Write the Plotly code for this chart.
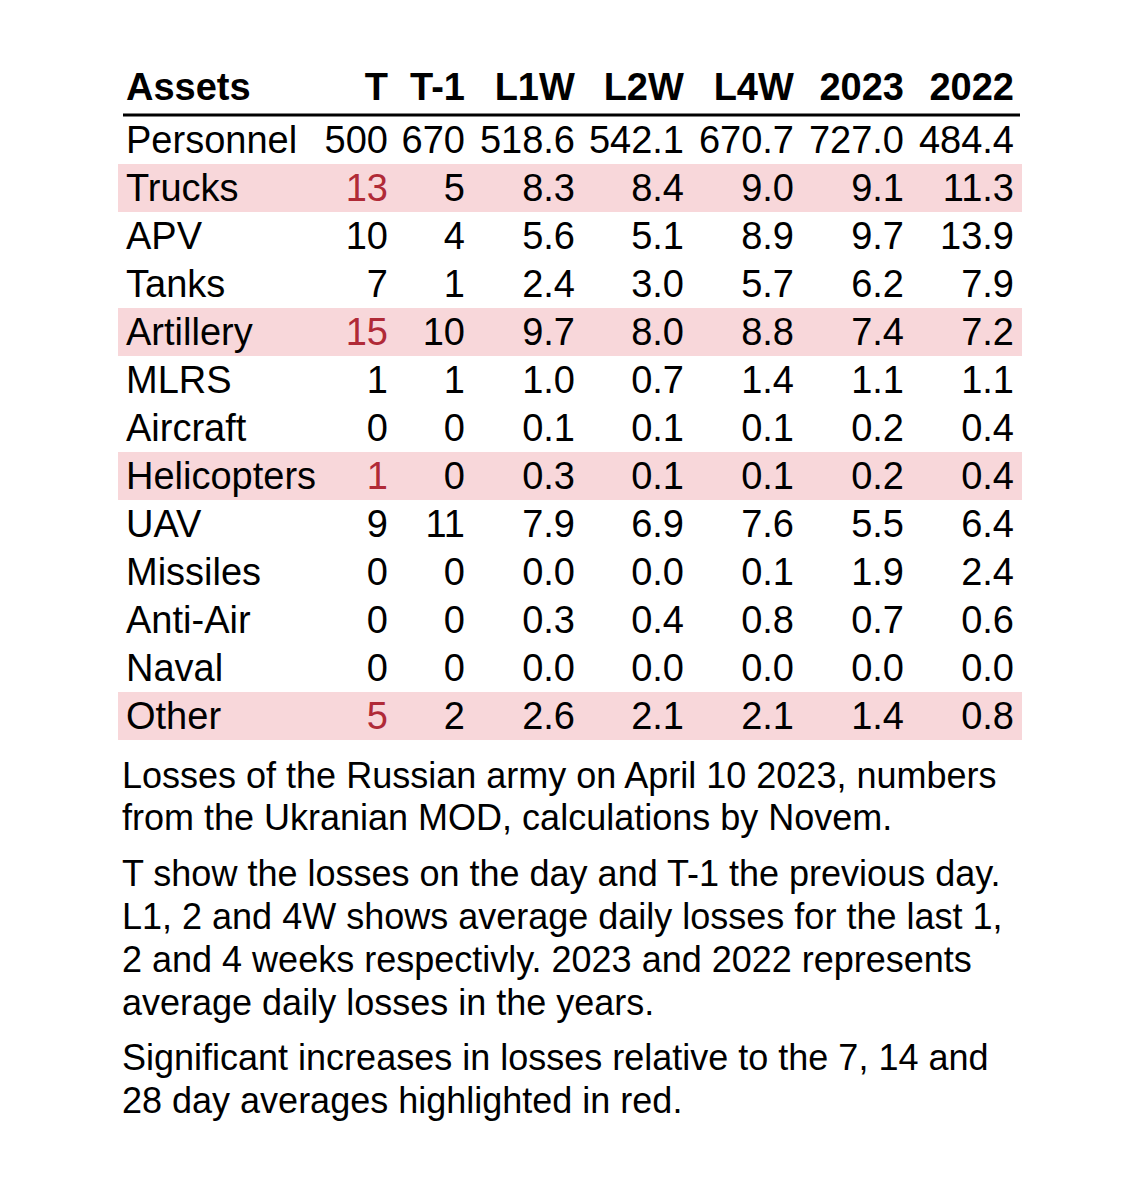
import plotly.graph_objects as go

assets = ["Personnel", "Trucks", "APV", "Tanks", "Artillery", "MLRS", "Aircraft",
          "Helicopters", "UAV", "Missiles", "Anti-Air", "Naval", "Other"]
t_day = [500, 13, 10, 7, 15, 1, 0, 1, 9, 0, 0, 0, 5]
t_prev = [670, 5, 4, 1, 10, 1, 0, 0, 11, 0, 0, 0, 2]
l1w = [518.6, 8.3, 5.6, 2.4, 9.7, 1.0, 0.1, 0.3, 7.9, 0.0, 0.3, 0.0, 2.6]
l2w = [542.1, 8.4, 5.1, 3.0, 8.0, 0.7, 0.1, 0.1, 6.9, 0.0, 0.4, 0.0, 2.1]
l4w = [670.7, 9.0, 8.9, 5.7, 8.8, 1.4, 0.1, 0.1, 7.6, 0.1, 0.8, 0.0, 2.1]
y2023 = [727.0, 9.1, 9.7, 6.2, 7.4, 1.1, 0.2, 0.2, 5.5, 1.9, 0.7, 0.0, 1.4]
y2022 = [484.4, 11.3, 13.9, 7.9, 7.2, 1.1, 0.4, 0.4, 6.4, 2.4, 0.6, 0.0, 0.8]
highlighted = ["Trucks", "Artillery", "Helicopters", "Other"]

headers = ["Assets", "T", "T-1", "L1W", "L2W", "L4W", "2023", "2022"]

notes = [
    ["Losses of the Russian army on April 10 2023, numbers",
     "from the Ukranian MOD, calculations by Novem."],
    ["T show the losses on the day and T-1 the previous day.",
     "L1, 2 and 4W shows average daily losses for the last 1,",
     "2 and 4 weeks respectivly. 2023 and 2022 represents",
     "average daily losses in the years."],
    ["Significant increases in losses relative to the 7, 14 and",
     "28 day averages highlighted in red."],
]

W, H = 1140, 1182
PINK = "#f8d7da"
RED = "#b02a37"
FONT = "Liberation Sans, Arial, sans-serif"

is_hi = [a in highlighted for a in assets]
row_fill = [PINK if h else "white" for h in is_hi]

columns = [assets,
           [str(v) for v in t_day],
           [str(v) for v in t_prev]] + \
          [[f"{v:.1f}" for v in col] for col in (l1w, l2w, l4w, y2023, y2022)]

font_colors = [["black"] * len(assets) for _ in columns]
font_colors[1] = [RED if h else "black" for h in is_hi]

# table placement in pixels (page adds an 8px body margin)
left, right = 110, 1014
top = 50
row_h = 48

fig = go.Figure(go.Table(
    domain=dict(x=[left / W, right / W], y=[0, 1 - top / H]),
    columnwidth=[204, 74, 77, 110, 109, 110, 110, 110],
    header=dict(
        values=[f"<b>{h}</b>" for h in headers],
        align=["left"] + ["right"] * 7,
        font=dict(family=FONT, size=38, color="black"),
        fill_color="white",
        line_width=0,
        height=row_h,
    ),
    cells=dict(
        values=columns,
        align=["left"] + ["right"] * 7,
        font=dict(family=FONT, size=38, color=font_colors),
        fill_color=[row_fill] * len(columns),
        line_width=0,
        height=row_h,
    ),
))

# rule under the header
fig.add_shape(type="line", xref="paper", yref="paper",
              x0=115 / W, x1=1012 / W, y0=1 - 107 / H, y1=1 - 107 / H,
              line=dict(color="black", width=3))

# caption, one annotation per line so the line spacing can be set
line_gap = 43
para_gap = 12
ypx = 767
for para in notes:
    for line in para:
        fig.add_annotation(text=line, xref="paper", yref="paper",
                           x=112 / W, y=1 - ypx / H, xanchor="left", yanchor="middle",
                           align="left", showarrow=False,
                           font=dict(family=FONT, size=36, color="black"))
        ypx += line_gap
    ypx += para_gap

fig.update_layout(
    width=W, height=H,
    margin=dict(l=0, r=0, t=0, b=0),
    paper_bgcolor="white",
    plot_bgcolor="white",
)

fig.write_html("out.html")
